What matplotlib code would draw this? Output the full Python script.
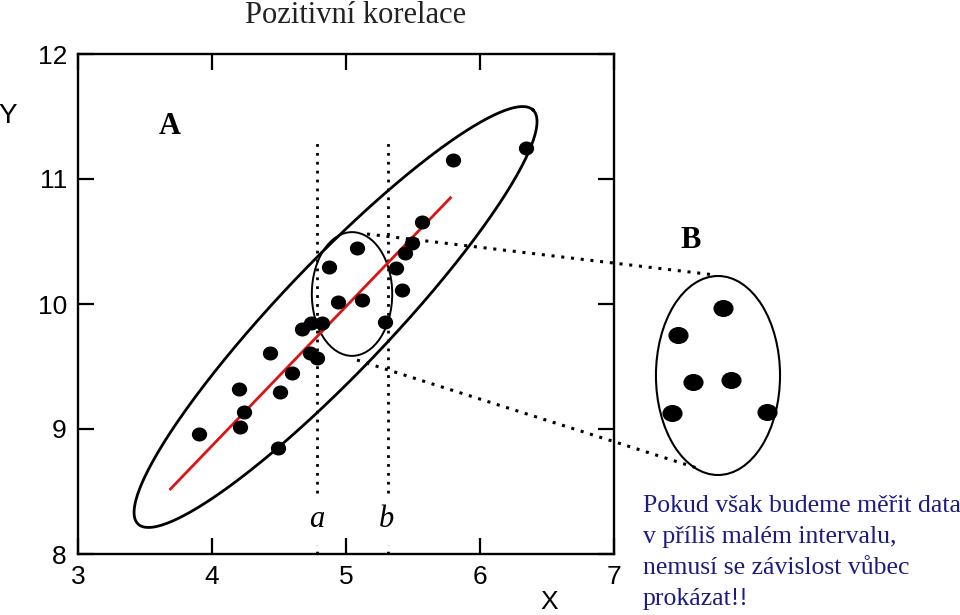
import numpy as np
import matplotlib.pyplot as plt
from matplotlib.patches import Ellipse
from matplotlib.path import Path

plt.rcParams['font.family'] = ['Liberation Sans', 'DejaVu Sans']

# points of panel A
xa = [3.90, 4.20, 4.21, 4.24, 4.49, 4.51, 4.43, 4.60, 4.67, 4.74, 4.82, 4.73, 4.78,
      4.87, 4.94, 5.08, 5.12, 5.29, 5.37, 5.42, 5.44, 5.49, 5.57, 5.80, 6.34]
ya = [8.96, 9.32, 9.02, 9.14, 8.85, 9.30, 9.61, 9.45, 9.80, 9.85, 9.85, 9.61, 9.57,
      10.30, 10.02, 10.45, 10.03, 9.86, 10.29, 10.11, 10.41, 10.49, 10.66, 11.15, 11.25]

# zoomed detail B (drawn to the right of the axes)
xb = [7.81, 7.48, 7.59, 7.87, 7.43, 8.14]
yb = [9.97, 9.75, 9.38, 9.39, 9.13, 9.14]

# regression line
fit_x = [3.69, 5.78]
fit_y = [8.52, 10.85]

# interval limits a, b
x_lo, x_hi = 4.78, 5.31

xticks = [3, 4, 5, 6, 7]
yticks = [8, 9, 10, 11, 12]

note_lines = ["Pokud však budeme měřit data",
              "v příliš malém intervalu,",
              "nemusí se závislost vůbec",
              "prokázat!!"]

navy = '#1c1c80'
dots = (0, (1, 2.2))

fig = plt.figure(figsize=(9.6, 6.15), dpi=100)
ax = fig.add_axes([78/960, 1-554/615, 536/960, 500/615])
ax.set_xlim(3, 7)
ax.set_ylim(8, 12)
ax.set_xticks(xticks)
ax.set_yticks(yticks)
ax.tick_params(direction='in', length=11.5, width=1.6, top=True, right=True,
               labelsize=19, pad=8)
for s in ax.spines.values():
    s.set_linewidth(1.7)

# big tilted ellipse (centre + two conjugate semi-axes in data units)
c_big = (4.922, 9.896)
u_big = (1.474, 1.656)
v_big = (0.297, -0.304)
t = np.linspace(0, 2*np.pi, 400)
ax.plot(c_big[0] + u_big[0]*np.cos(t) + v_big[0]*np.sin(t),
        c_big[1] + u_big[1]*np.cos(t) + v_big[1]*np.sin(t), color='k', lw=2.0)

# small ellipse inside the interval and the detail ellipse B
ax.add_patch(Ellipse((5.045, 10.08), 0.60, 0.99, fill=False, ec='k', lw=1.4))
ax.add_patch(Ellipse((7.776, 9.428), 0.926, 1.592, fill=False, ec='k', lw=1.5,
                     clip_on=False))

# connecting dotted lines
ax.plot([5.157, 7.754], [10.56, 10.232], color='k', lw=2.2, ls=dots, clip_on=False)
ax.plot([5.082, 7.619], [9.552, 8.688], color='k', lw=2.2, ls=dots, clip_on=False)

# vertical dotted limits
for xv in (x_lo, x_hi):
    ax.plot([xv, xv], [8.49, 11.29], color='k', lw=2.0, ls=dots)
    ax.plot([xv, xv], [8.0, 8.07], color='k', lw=2.0, ls=dots)
ax.text(x_lo, 8.216, 'a', ha='center', va='baseline', fontsize=22, fontstyle='italic',
        family='Liberation Serif')
ax.text(x_hi - 0.01, 8.216, 'b', ha='center', va='baseline', fontsize=22,
        fontstyle='italic', family='Liberation Serif')

ax.plot(fit_x, fit_y, color='#dc1414', lw=2.0)

circ = Path.unit_circle()
dot_a = Path(circ.vertices * [1.1, 1.0], circ.codes)
dot_b = Path(circ.vertices * [1.2, 1.0], circ.codes)
ax.plot(xa, ya, ls='none', marker=dot_a, ms=10, color='k')
ax.plot(xb, yb, ls='none', marker=dot_b, ms=13.5, color='k', clip_on=False)

ax.text(3.687, 11.36, 'A', ha='center', va='baseline', fontsize=22, fontweight='bold',
        family='Liberation Serif')
ax.text(7.575, 10.448, 'B', ha='center', va='baseline', fontsize=22, fontweight='bold',
        family='Liberation Serif', clip_on=False)

fig.text(356/960, 1-23/615, 'Pozitivní korelace', ha='center', va='baseline',
         fontsize=22, family='Liberation Serif', color='#222222')
fig.text(8/960, 1-123/615, 'Y', ha='center', va='baseline', fontsize=20)
fig.text(549/960, 1-609/615, 'X', ha='center', va='baseline', fontsize=19)

for i, line in enumerate(note_lines):
    fig.text(643/960, 1-(512 + 31*i)/615, line, ha='left', va='baseline',
             fontsize=18.5, color=navy, family='Liberation Serif')

fig.savefig('out.png', dpi=100)
